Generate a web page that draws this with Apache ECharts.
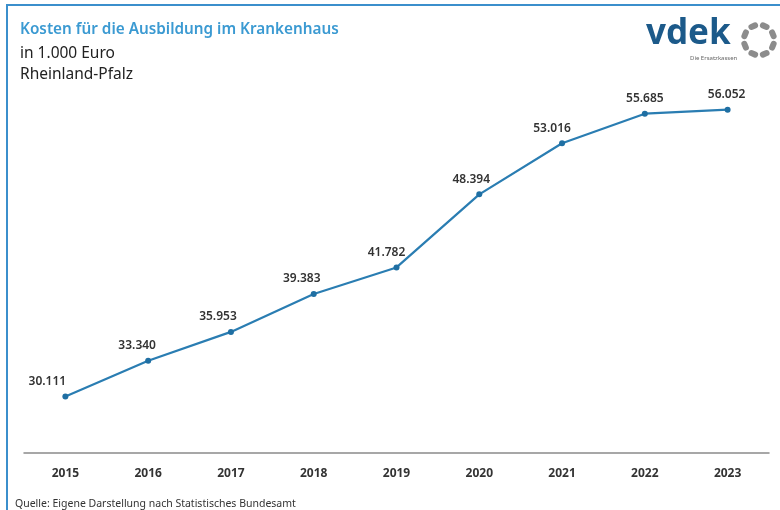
<!DOCTYPE html>
<html><head><meta charset="utf-8">
<script src="https://cdn.jsdelivr.net/npm/echarts@6/dist/echarts.min.js"></script>
<style>html,body{margin:0;padding:0;background:#fff}#c{width:780px;height:510px}</style>
</head><body><div id="c"></div>
<script>
const years = ['2015','2016','2017','2018','2019','2020','2021','2022','2023'];
const costs = [30111, 33340, 35953, 39383, 41782, 48394, 53016, 55685, 56052];
const titleText = 'Kosten für die Ausbildung im Krankenhaus';
const subtitle1 = 'in 1.000 Euro';
const subtitle2 = 'Rheinland-Pfalz';
const sourceText = 'Quelle: Eigene Darstellung nach Statistisches Bundesamt';

const labelShift = [-18, -11, -13, -12, -10, -8, -10, 0, -1];
const fmt = v => v.toLocaleString('de-DE');
const chart = echarts.init(document.getElementById('c'));
const font = '"Noto Sans", sans-serif';

const dots = [];
for (let i = 0; i < 8; i++) {
  const a = i * Math.PI / 4 + Math.PI / 8;
  dots.push({
    type: 'rect', x: 759 + 15 * Math.cos(a), y: 40 + 15 * Math.sin(a),
    rotation: -a,
    shape: { x: -3, y: -5, width: 6, height: 10, r: 3 },
    style: { fill: '#8c8c8c' }
  });
}

chart.setOption({
  animation: false,
  grid: { left: 24, right: 11, top: 66, bottom: 57 },
  xAxis: {
    type: 'category', data: years, boundaryGap: true,
    axisLine: { lineStyle: { color: '#8a8a8a', width: 1.5 } },
    axisTick: { length: 4, lineStyle: { color: '#8a8a8a' } },
    axisLabel: { color: '#333', fontWeight: 'bold', fontSize: 12, margin: 15, fontFamily: font }
  },
  yAxis: { type: 'value', min: 25000, max: 60000, show: false, splitLine: { show: false } },
  series: [{
    type: 'line', data: costs.map((v, i) => ({ value: v, label: { offset: [labelShift[i], 0] } })),
    symbol: 'circle', symbolSize: 6,
    lineStyle: { color: '#2a7db2', width: 2.2 },
    itemStyle: { color: '#1f6fa3' },
    label: { show: true, position: 'top', distance: 6, color: '#333', fontSize: 12, fontWeight: 600, fontFamily: font, formatter: p => fmt(p.value) }
  }],
  graphic: [
    { type: 'line', shape: { x1: 7, y1: 5, x2: 780, y2: 5 }, style: { stroke: '#3b8fcc', lineWidth: 2 } },
    { type: 'line', shape: { x1: 7, y1: 4, x2: 7, y2: 510 }, style: { stroke: '#3b8fcc', lineWidth: 2 } },
    { type: 'text', left: 20, top: 22, style: { text: titleText, fill: '#3b9ad2', font: '600 15.3px ' + font } },
    { type: 'text', left: 20, top: 46, style: { text: subtitle1, fill: '#222', font: '15.5px ' + font } },
    { type: 'text', left: 20, top: 67, style: { text: subtitle2, fill: '#222', font: '15.5px ' + font } },
    { type: 'text', left: 15, top: 499, style: { text: sourceText, fill: '#333', font: '10.5px ' + font } },
    { type: 'text', left: 646, top: 17, style: { text: 'vdek', fill: '#1c5a8a', font: 'bold 35px ' + font } },
    { type: 'text', left: 690, top: 55, style: { text: 'Die Ersatzkassen', fill: '#666', font: '6px ' + font } },
    ...dots
  ]
});
</script></body></html>
